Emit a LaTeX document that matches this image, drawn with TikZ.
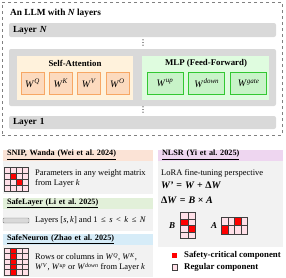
\documentclass[tikz,border=0pt]{standalone}
\usepackage{fontspec}
\setmainfont{Liberation Serif}
\newfontfamily\dotsfont{DejaVu Sans}
\definecolor{laygray}{RGB}{217,217,217}
\definecolor{panelgray}{RGB}{242,242,242}
\definecolor{attnfill}{RGB}{255,242,220}
\definecolor{attnw}{RGB}{252,218,190}
\definecolor{attnedge}{RGB}{247,167,100}
\definecolor{mlpfill}{RGB}{223,252,223}
\definecolor{mlpw}{RGB}{200,243,200}
\definecolor{mlpedge}{RGB}{50,200,50}
\definecolor{snipc}{RGB}{251,227,214}
\definecolor{slayc}{RGB}{226,240,217}
\definecolor{sneurc}{RGB}{214,236,248}
\definecolor{nlsrc}{RGB}{238,214,240}
\definecolor{cellpink}{RGB}{255,224,232}
\definecolor{celledge}{RGB}{64,64,64}
\usetikzlibrary{positioning}
\frenchspacing

\begin{document}
\begin{tikzpicture}[x=1pt, y=-1pt,
    font=\fontsize{8.5}{10}\selectfont,
    layerbar/.style={rectangle, rounded corners=2pt, fill=laygray, minimum height=14pt,
      text width=259pt, inner xsep=4pt, inner ysep=0pt, align=left, font=\fontsize{9.3}{11}\selectfont\bfseries},
    groupbox/.style={rectangle, minimum height=44pt, inner sep=0pt},
    wbox/.style={rectangle, thick, minimum height=22pt, inner sep=0pt, font=\fontsize{10}{12}\selectfont},
    hdr/.style={rectangle, minimum height=11pt, text width=142pt, inner xsep=4pt, inner ysep=0pt,
      align=left, font=\fontsize{8.2}{9.5}\selectfont\bfseries},
    panel/.style={rectangle, fill=panelgray, minimum width=150pt, inner sep=0pt},
    txt/.style={anchor=west, inner sep=0pt, align=left},
    dots/.style={inner sep=0pt, font=\dotsfont\fontsize{8}{8}\selectfont},
    cell/.style={draw=celledge, fill=cellpink, line width=0.5pt},
    hot/.style={draw=celledge, fill=red, line width=0.5pt}
  ]
    \useasboundingbox (0,0) rectangle (286,277);
    % the model
    \node[draw=gray, dashed, line width=0.5pt, minimum width=280pt, minimum height=133pt, inner sep=0pt] (llm) at (142,68.5) {};
    \node[txt, font=\fontsize{9.3}{11}\selectfont\bfseries] (llmtitle) at (10,13) {An LLM with \textit{N} layers};
    \node[layerbar] (layN) at (142.5,30) {Layer \textit{N}};
    \node[dots] (dotsA) at (143,43.5) {⋮};
    \node[layerbar, minimum height=57pt] (laymid) at (142.5,77.5) {};
    \node[layerbar, minimum height=13pt] (lay1) at (142.5,122.5) {Layer 1};
    \node[dots] (dotsB) at (143,110.5) {⋮};

    \node[groupbox, fill=attnfill, minimum width=116pt] (attn) at (75,78) {};
    \node[font=\fontsize{8.8}{10}\selectfont\bfseries] (attnt) at (75,63) {Self-Attention};
    \node[wbox, draw=attnedge, fill=attnw, minimum width=23pt] (wq) at (32.5,83) {\textit{W}\textsuperscript{\textit{Q}}};
    \node[wbox, draw=attnedge, fill=attnw, minimum width=23pt, right=4.5pt of wq] (wk) {\textit{W}\textsuperscript{\textit{K}}};
    \node[wbox, draw=attnedge, fill=attnw, minimum width=23pt, right=4.5pt of wk] (wv) {\textit{W}\textsuperscript{\textit{V}}};
    \node[wbox, draw=attnedge, fill=attnw, minimum width=23pt, right=4.5pt of wv] (wo) {\textit{W}\textsuperscript{\textit{O}}};

    \node[groupbox, fill=mlpfill, minimum width=127pt] (mlp) at (205.5,78) {};
    \node[font=\fontsize{8.8}{10}\selectfont\bfseries] (mlpt) at (206,63) {MLP (Feed-Forward)};
    \node[wbox, draw=mlpedge, fill=mlpw, minimum width=36pt] (wup) at (165,83) {\textit{W}\textsuperscript{\textit{up}}};
    \node[wbox, draw=mlpedge, fill=mlpw, minimum width=36pt, right=5pt of wup] (wdown) {\textit{W}\textsuperscript{\textit{down}}};
    \node[wbox, draw=mlpedge, fill=mlpw, minimum width=36pt, right=5pt of wdown] (wgate) {\textit{W}\textsuperscript{\textit{gate}}};

    % SNIP, Wanda
    \node[hdr, fill=snipc] (sniph) at (78,155) {\underline{SNIP, Wanda (Wei et al. 2024)}};
    \node[panel, minimum height=33pt] (snipb) at (78,177.5) {};
    \foreach \c in {0,...,3}
      \foreach \r in {0,...,3}
        \draw[cell] (4+6*\c,167+6*\r) rectangle ++(6,6);
    \draw[hot] (10,173) rectangle ++(6,6);
    \draw[hot] (16,179) rectangle ++(6,6);
    \node[txt] (sniptx) at (35,178) {Parameters in any weight matrix\\from Layer \textit{k}};

    % SafeLayer
    \node[hdr, fill=slayc] (slayh) at (78,203) {\underline{SafeLayer (Li et al. 2025)}};
    \node[panel, minimum height=22pt] (slayb) at (78,220) {};
    \node[rectangle, rounded corners=1pt, draw=gray, fill=laygray, minimum width=26pt, minimum height=5pt, inner sep=0pt] (slaybar) at (16,220.5) {};
    \node[txt] (slaytx) at (35,220.5) {Layers [\textit{s},\,\textit{k}] and 1\hspace{3.5pt}≤\hspace{3.5pt}\textit{s}\hspace{3.5pt}<\hspace{3.5pt}\textit{k}\hspace{3.5pt}≤\hspace{3.5pt}\textit{N}};

    % SafeNeuron
    \node[hdr, fill=sneurc] (sneurh) at (78,239) {\underline{SafeNeuron (Zhao et al. 2025)}};
    \node[panel, minimum height=32pt] (sneurb) at (78,261) {};
    \foreach \c in {0,...,3}
      \foreach \r in {0,...,4}
        \draw[cell] (4+6*\c,248+5.4*\r) rectangle ++(6,5.4);
    \foreach \r in {0,...,4}
      \draw[hot] (10,248+5.4*\r) rectangle ++(6,5.4);
    \node[txt] (sneurtx) at (35,262.5) {Rows or columns in \textit{W}\textsuperscript{\textit{Q}}, \textit{W}\textsuperscript{\textit{K}},\\
      \textit{W}\textsuperscript{\textit{V}}, \textit{W}\textsuperscript{\textit{up}} or \textit{W}\textsuperscript{\textit{down}} from Layer \textit{k}};

    % NLSR
    \node[hdr, fill=nlsrc, text width=117pt] (nlsrh) at (220.5,155) {\underline{NLSR (Yi et al. 2025)}};
    \node[panel, minimum width=125pt, minimum height=86pt] (nlsrb) at (220.5,203.5) {};
    \node[txt] (lora) at (161,173) {LoRA fine-tuning perspective};
    \node[txt, font=\fontsize{10}{12}\selectfont\bfseries] (eqa) at (161,185) {\textit{W'}\hspace{3pt}=\hspace{3pt}\textit{W}\hspace{2.5pt}+\hspace{2.5pt}Δ\textit{W}};
    \node[txt, font=\fontsize{10}{12}\selectfont\bfseries] (eqb) at (161,200) {Δ\textit{W}\hspace{3pt}=\hspace{3pt}\textit{B}\hspace{2.5pt}×\hspace{2.5pt}\textit{A}};
    \node[font=\fontsize{9}{10}\selectfont\bfseries\itshape] (labB) at (172,225.5) {B};
    \foreach \c in {0,1}
      \foreach \r in {0,...,3}
        \draw[cell] (180+7.8*\c,212.7+6.4*\r) rectangle ++(7.8,6.4);
    \draw[hot] (180,219.1) rectangle ++(7.8,6.4);
    \draw[hot] (187.8,225.5) rectangle ++(7.8,6.4);
    \node[font=\fontsize{9}{10}\selectfont\bfseries\itshape] (labA) at (214,225.5) {A};
    \foreach \c in {0,...,3}
      \foreach \r in {0,1}
        \draw[cell] (221.7+6.5*\c,217.3+8.3*\r) rectangle ++(6.5,8.3);
    \draw[hot] (234.7,217.3) rectangle ++(6.5,8.3);
    \draw[hot] (221.7,225.6) rectangle ++(6.5,8.3);

    % legend
    \node[rectangle, fill=red, minimum size=5.5pt, inner sep=0pt] (keyhot) at (174.5,255.5) {};
    \node[txt, font=\fontsize{8.8}{10}\selectfont\bfseries] (keyhottx) at (184,255.5) {Safety-critical component};
    \node[rectangle, draw=celledge, fill=cellpink, line width=0.5pt, minimum size=5.5pt, inner sep=0pt] (keyreg) at (174.5,267) {};
    \node[txt, font=\fontsize{8.8}{10}\selectfont\bfseries] (keyregtx) at (184,267) {Regular component};
  \end{tikzpicture}
\end{document}
